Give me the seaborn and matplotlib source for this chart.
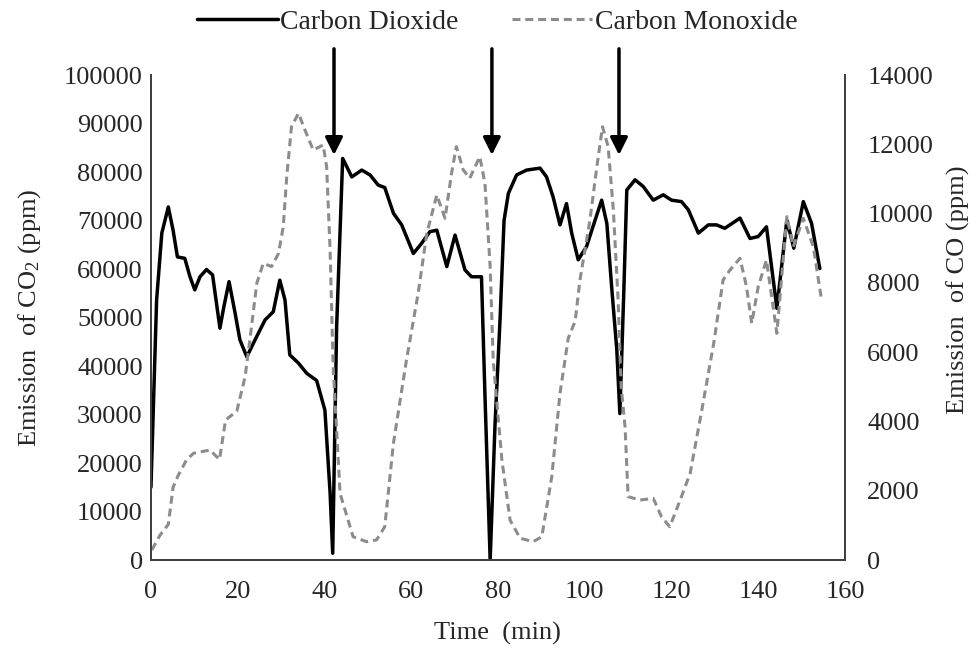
import matplotlib
matplotlib.use("Agg")
import matplotlib.pyplot as plt
import seaborn as sns
from matplotlib.lines import Line2D
from matplotlib.ticker import StrMethodFormatter

# CO2 readings (left axis)
co2_time = [0, 1.3, 2.5, 4.0, 5.1, 6.1, 7.8, 9.0, 10.1, 11.3, 12.8, 14.2, 15.9, 16.8, 18.0,
            19.4, 20.5, 22.1, 24.0, 26.3, 28.2, 29.7, 30.9, 32.0, 34.0, 35.9, 38.2, 40.1, 41.3,
            41.9, 42.8, 44.2, 46.3, 48.6, 50.5, 52.4, 53.9, 55.9, 57.8, 60.5, 62.4, 64.3, 65.9,
            68.2, 70.1, 72.4, 73.9, 76.2, 77.0, 78.2, 79.3, 80.5, 81.4, 82.4, 84.3, 86.6, 89.7,
            91.2, 92.7, 94.3, 95.8, 97.0, 98.5, 100.4, 102.4, 103.9, 105.1, 106.2, 107.4, 108.1,
            109.0, 109.7, 111.6, 113.5, 115.8, 118.1, 120.0, 122.3, 123.9, 126.2, 128.5, 130.4,
            132.3, 135.8, 138.1, 140.0, 141.9, 144.3, 146.6, 148.2, 150.4, 152.3, 154.2]
co2_ppm = [15000, 53600, 67400, 72800, 68000, 62500, 62200, 58400, 55700, 58400, 59900, 58800,
           47800, 52200, 57400, 50900, 45400, 41900, 45400, 49500, 51200, 57700, 53600, 42300,
           40600, 38500, 37000, 30900, 13800, 1400, 48000, 82800, 79000, 80400, 79400, 77300,
           76800, 71500, 69100, 63200, 65300, 67700, 68000, 60500, 67000, 59800, 58400, 58400,
           34000, 0, 27500, 50000, 70000, 75600, 79400, 80400, 80800, 79000, 74900, 69100, 73500,
           67400, 61900, 64600, 70100, 74200, 69400, 56400, 43300, 30200, 55000, 76300, 78400,
           77000, 74200, 75300, 74200, 73900, 72200, 67400, 69100, 69100, 68400, 70500, 66300,
           66700, 68700, 51900, 70100, 64300, 73900, 69400, 60100]

# CO readings (right axis)
co_time = [0.2, 2.1, 4.0, 5.1, 6.3, 8.2, 9.8, 13.6, 15.8, 17.2, 19.8, 21.7, 22.8, 24.4, 25.9,
           27.8, 29.4, 30.5, 31.3, 32.4, 34.0, 35.5, 37.4, 39.7, 40.5, 41.3, 42.0, 43.6, 46.6,
           49.7, 52.0, 53.9, 55.9, 58.9, 61.6, 63.6, 65.9, 67.8, 69.3, 70.4, 72.0, 73.5, 75.8,
           77.0, 78.2, 78.9, 80.9, 82.8, 85.1, 88.1, 90.1, 92.4, 94.3, 96.2, 97.8, 98.9, 101.2,
           102.8, 104.1, 105.4, 106.6, 107.7, 108.4, 109.3, 110.0, 112.7, 115.8, 117.7, 119.6,
           122.0, 124.3, 127.0, 129.8, 131.9, 133.5, 135.8, 137.3, 138.5, 140.0, 141.9, 144.3,
           146.6, 148.1, 150.4, 152.7, 154.6]
co_ppm = [290, 720, 1030, 2100, 2450, 2890, 3080, 3175, 2900, 4040, 4300, 5290, 6350, 7990,
          8565, 8470, 8850, 9620, 11065, 12510, 12895, 12413, 11836, 11980, 11354, 8949, 5580,
          1920, 670, 530, 580, 960, 3370, 5770, 7700, 9431, 10537, 9864, 11163, 11932, 11259,
          11019, 11643, 10875, 8468, 5770, 2890, 1150, 630, 530, 670, 2400, 4810, 6400, 6900,
          8083, 9815, 11354, 12509, 11932, 10104, 7506, 5000, 3850, 1830, 1730, 1780, 1250, 960,
          1730, 2500, 4330, 6300, 8083, 8372, 8709, 7890, 6833, 7890, 8660, 6543, 9911, 9045,
          9864, 9045, 7506]

# times marked with arrows
arrow_times = [42.2, 78.6, 107.9]

sns.set_style("white")
plt.rcParams["font.family"] = ["Liberation Serif", "DejaVu Serif"]
plt.rcParams["mathtext.fontset"] = "custom"
plt.rcParams["mathtext.rm"] = "Liberation Serif"
plt.rcParams["mathtext.it"] = "Liberation Serif:italic"

text_col = "#262626"
spine_col = "#404040"
co_col = "#8c8c8c"
co_dash = (0, (2.6, 1.6))

fig = plt.figure(figsize=(9.79, 6.53), dpi=100)
ax = fig.add_axes([0.1542, 0.1424, 0.7089, 0.7427])
ax2 = ax.twinx()

sns.lineplot(x=co2_time, y=co2_ppm, ax=ax, color="black", lw=2.5, legend=False)
sns.lineplot(x=co_time, y=co_ppm, ax=ax2, color=co_col, lw=2.2, linestyle=co_dash, legend=False)
for ln in ax.lines + ax2.lines:
    ln.set_solid_joinstyle("round")
    ln.set_dash_joinstyle("round")

ax.set_xlim(0, 160)
ax.set_ylim(0, 100000)
ax2.set_ylim(0, 14000)
ax.set_xticks(range(0, 161, 20))
ax.set_yticks(range(0, 100001, 10000))
ax2.set_yticks(range(0, 14001, 2000))
ax.yaxis.set_major_formatter(StrMethodFormatter("{x:.0f}"))
ax2.yaxis.set_major_formatter(StrMethodFormatter("{x:.0f}"))

ax.tick_params(axis="y", length=0, labelsize=19, pad=6, colors=text_col)
ax.tick_params(axis="x", length=0, labelsize=19, pad=15, colors=text_col)
ax2.tick_params(axis="y", length=0, labelsize=19, pad=16, colors=text_col)

for a in (ax, ax2):
    a.spines["top"].set_visible(False)
    for s in ("left", "right", "bottom"):
        a.spines[s].set_color(spine_col)
        a.spines[s].set_linewidth(1.4)

ax.set_xlabel("Time  (min)", fontsize=19, color=text_col)
ax.xaxis.set_label_coords(0.499, -0.128)
ax.set_ylabel("Emission  of CO$_2$ (ppm)", fontsize=19, color=text_col)
ax.yaxis.set_label_coords(-0.155, 0.5)
ax2.set_ylabel("Emission  of CO (ppm)", fontsize=19, color=text_col)
ax2.yaxis.set_label_coords(1.146, 0.557)

# arrows pointing at the drops
for t in arrow_times:
    ax2.annotate("", xy=(t, 83500), xytext=(t, 105400),
                 xycoords=ax.transData, textcoords=ax.transData,
                 arrowprops=dict(arrowstyle="-|>", color="black", lw=2.5,
                                 mutation_scale=26, shrinkA=0, shrinkB=0),
                 annotation_clip=False)

handles = [Line2D([], [], color="black", lw=2.5),
           Line2D([], [], color=co_col, lw=2.2, linestyle=co_dash)]
fig.legend(handles, ["Carbon Dioxide", "Carbon Monoxide"], loc="center",
           bbox_to_anchor=(0.508, 0.966), ncol=2, frameon=False, fontsize=20,
           handlelength=2.9, handletextpad=0.1, columnspacing=1.9,
           labelcolor=text_col)

fig.savefig("out.png", dpi=100)
